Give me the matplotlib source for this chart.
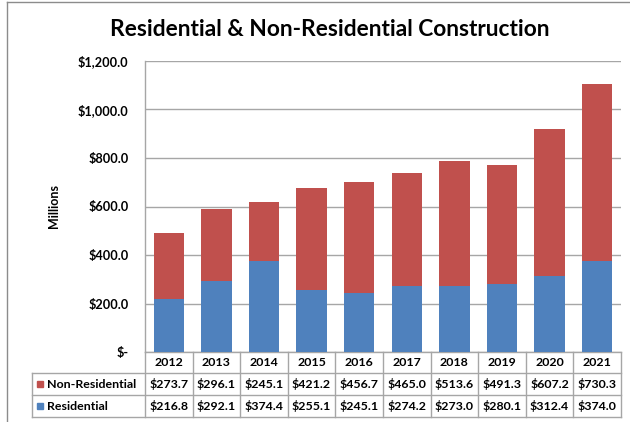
import matplotlib
matplotlib.use("Agg")
import matplotlib.pyplot as plt
from matplotlib.lines import Line2D
from matplotlib.patches import Rectangle
from matplotlib.ticker import FuncFormatter

years = ["2012", "2013", "2014", "2015", "2016", "2017", "2018", "2019", "2020", "2021"]
residential = [216.8, 292.1, 374.4, 255.1, 245.1, 274.2, 273.0, 280.1, 312.4, 374.0]
non_residential = [273.7, 296.1, 245.1, 421.2, 456.7, 465.0, 513.6, 491.3, 607.2, 730.3]
series_names = ["Non-Residential", "Residential"]
title = "Residential & Non-Residential Construction"
y_label = "Millions"
y_ticks = [0, 200, 400, 600, 800, 1000, 1200]

BLUE = "#4F81BD"
RED = "#C0504D"
GRID = "#A6A6A6"
FONT = "Lato"

plt.rcParams['font.family'] = [FONT, 'DejaVu Sans']

W, H = 630, 422
fig = plt.figure(figsize=(W / 100, H / 100), dpi=100)

# axes position in pixels
L, R, T, B = 145, 621, 61, 352
ax = fig.add_axes([L / W, 1 - B / H, (R - L) / W, (B - T) / H])

x = list(range(len(years)))
ax.bar(x, residential, width=0.64, color=BLUE, zorder=3)
ax.bar(x, non_residential, width=0.64, bottom=residential, color=RED, zorder=3)

ax.set_xlim(-0.5, len(years) - 0.5)
ax.set_ylim(0, 1200)
ax.set_yticks(y_ticks)
ax.yaxis.set_major_formatter(FuncFormatter(lambda v, p: "$-" if v == 0 else f"${v:,.1f}"))
ax.tick_params(axis='y', length=0, pad=12, labelsize=9.2)
for lab in ax.get_yticklabels():
    lab.set_fontweight('bold')
ax.set_xticks([])
ax.grid(axis='y', color=GRID, linewidth=1, zorder=0)
for s in ['top', 'right', 'bottom']:
    ax.spines[s].set_visible(False)
ax.spines['left'].set_color(GRID)
ax.spines['left'].set_linewidth(1)

ax.set_ylabel(y_label, fontsize=9, fontweight='bold', labelpad=13)

fig.text(330 / W, 1 - 29 / H, title, ha='center', va='center', fontsize=16.4, fontweight='bold')

# data table below axes
ph = B - T
pw = R - L
def fy(py):
    return (B - py) / ph
def fx(px):
    return (px - L) / pw

row_lines = [352, 373, 395, 417]
colw = pw / len(years)
tab_left = 32
kw = dict(transform=ax.transAxes, clip_on=False, color=GRID, linewidth=1)
# horizontal
ax.plot([fx(L), fx(R)], [fy(352), fy(352)], **kw)
for py in row_lines[1:]:
    ax.plot([fx(tab_left), fx(R)], [fy(py), fy(py)], **kw)
# vertical
ax.plot([fx(L), fx(L)], [fy(352), fy(417)], **kw)
ax.plot([fx(tab_left), fx(tab_left)], [fy(373), fy(417)], **kw)
for k in range(1, len(years) + 1):
    px = L + colw * k
    ax.plot([fx(px), fx(px)], [fy(352), fy(417)], **kw)

tk = dict(transform=ax.transAxes, ha='center', va='center', fontsize=8.9, fontweight='bold', clip_on=False)
for i, yr in enumerate(years):
    cx = fx(L + colw * (i + 0.5))
    ax.text(cx, fy(362.5), yr, **tk)
    ax.text(cx, fy(384), f"${non_residential[i]:,.1f}", **tk)
    ax.text(cx, fy(406), f"${residential[i]:,.1f}", **tk)

for name, col, cy in [(series_names[0], RED, 384), (series_names[1], BLUE, 406)]:
    ax.add_patch(Rectangle((fx(37), fy(cy + 3)), 6 / pw, 6 / ph, transform=ax.transAxes,
                           clip_on=False, color=col))
    ax.text(fx(47), fy(cy), name, transform=ax.transAxes, ha='left', va='center',
            fontsize=8.9, fontweight='bold', clip_on=False)

# outer chart frame (left and top)
fig.add_artist(Line2D([7 / W, 7 / W], [0, 1 - 2 / H], color="#8C8C8C", linewidth=1))
fig.add_artist(Line2D([7 / W, 1], [1 - 2 / H, 1 - 2 / H], color="#8C8C8C", linewidth=1))

fig.savefig("out.png", dpi=100, facecolor="white")
